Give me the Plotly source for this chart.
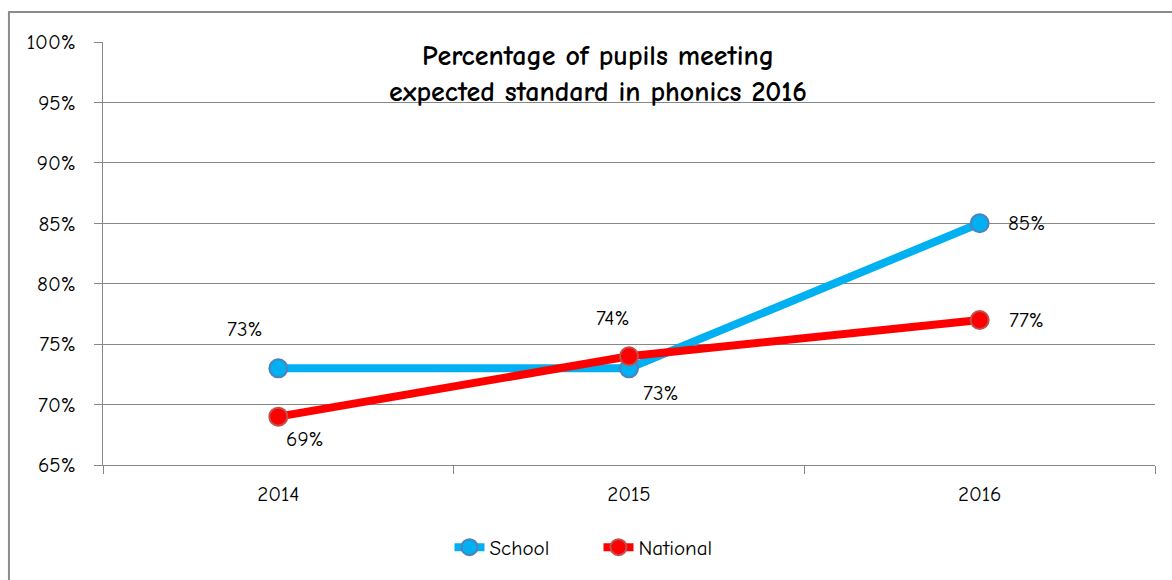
import plotly.graph_objects as go

years = ["2014", "2015", "2016"]
school = [73, 73, 85]
national = [69, 74, 77]
school_label_offsets = [(-33, 39), (32, -25), (47, 0)]
national_label_offsets = [(27, -22), (-16, 38), (47, 0)]
title_lines = ["Percentage of pupils meeting", "expected standard in phonics 2016"]
y_ticks = [65, 70, 75, 80, 85, 90, 95, 100]

FONT = "Comic Sans MS, Comic Neue, Open Sans, sans-serif"
GRID = "#878787"
FS = 21

fig = go.Figure()
fig.add_trace(go.Scatter(
    x=years, y=school, name="School", mode="lines+markers",
    line=dict(color="#00B0F0", width=8),
    marker=dict(size=18, color="#00B0F0", line=dict(color="#4F81BD", width=2)),
))
fig.add_trace(go.Scatter(
    x=years, y=national, name="National", mode="lines+markers",
    line=dict(color="#FF0000", width=8),
    marker=dict(size=18, color="#FF0000", line=dict(color="#C0504D", width=2)),
))

annotations = []
for ys, offs in [(school, school_label_offsets), (national, national_label_offsets)]:
    for i, (yv, (dx, dy)) in enumerate(zip(ys, offs)):
        annotations.append(dict(
            x=i, y=yv, xref="x", yref="y", text=f"{yv}%", showarrow=False,
            xshift=dx, yshift=dy, font=dict(family=FONT, size=FS, color="#000000"),
        ))
annotations.append(dict(
    x=0.471, y=1.01, xref="paper", yref="paper", xanchor="center", yanchor="top",
    text="<br>".join(f"<b>{t}</b>" for t in title_lines),
    showarrow=False, font=dict(family=FONT, size=28, color="#000000"), align="center",
))

fig.update_layout(
    width=1172, height=580,
    margin=dict(l=103, r=17, t=42, b=115),
    paper_bgcolor="white", plot_bgcolor="white",
    showlegend=True,
    legend=dict(orientation="h", x=0.471, xanchor="center", y=-0.195, yanchor="middle",
                font=dict(family=FONT, size=FS, color="#000000"),
                entrywidth=104, entrywidthmode="pixels",
                traceorder="normal"),
    annotations=annotations,
    shapes=[dict(type="rect", xref="paper", yref="paper",
                 x0=-0.0894, x1=1.2, y0=-0.6, y1=1.071,
                 line=dict(color="#8C8C8C", width=2), fillcolor="rgba(0,0,0,0)", layer="below")],
    xaxis=dict(type="category", range=[-0.5, 2.5], showgrid=False,
               showline=True, linecolor=GRID, linewidth=1,
               ticks="outside", tickson="boundaries", ticklen=8, tickcolor=GRID,
               ticklabelstandoff=10,
               tickfont=dict(family=FONT, size=FS, color="#000000")),
    yaxis=dict(range=[65, 100], tickvals=y_ticks, ticktext=[f"{v}%" for v in y_ticks],
               showgrid=True, gridcolor=GRID, gridwidth=1,
               showline=True, linecolor=GRID, linewidth=1,
               ticks="outside", ticklen=8, tickcolor=GRID, ticklabelstandoff=14,
               tickfont=dict(family=FONT, size=FS, color="#000000"), zeroline=False),
)

fig.write_html("out.html", config={"displayModeBar": False},
               post_script="document.body.style.margin='0';document.body.style.overflow='hidden';")
